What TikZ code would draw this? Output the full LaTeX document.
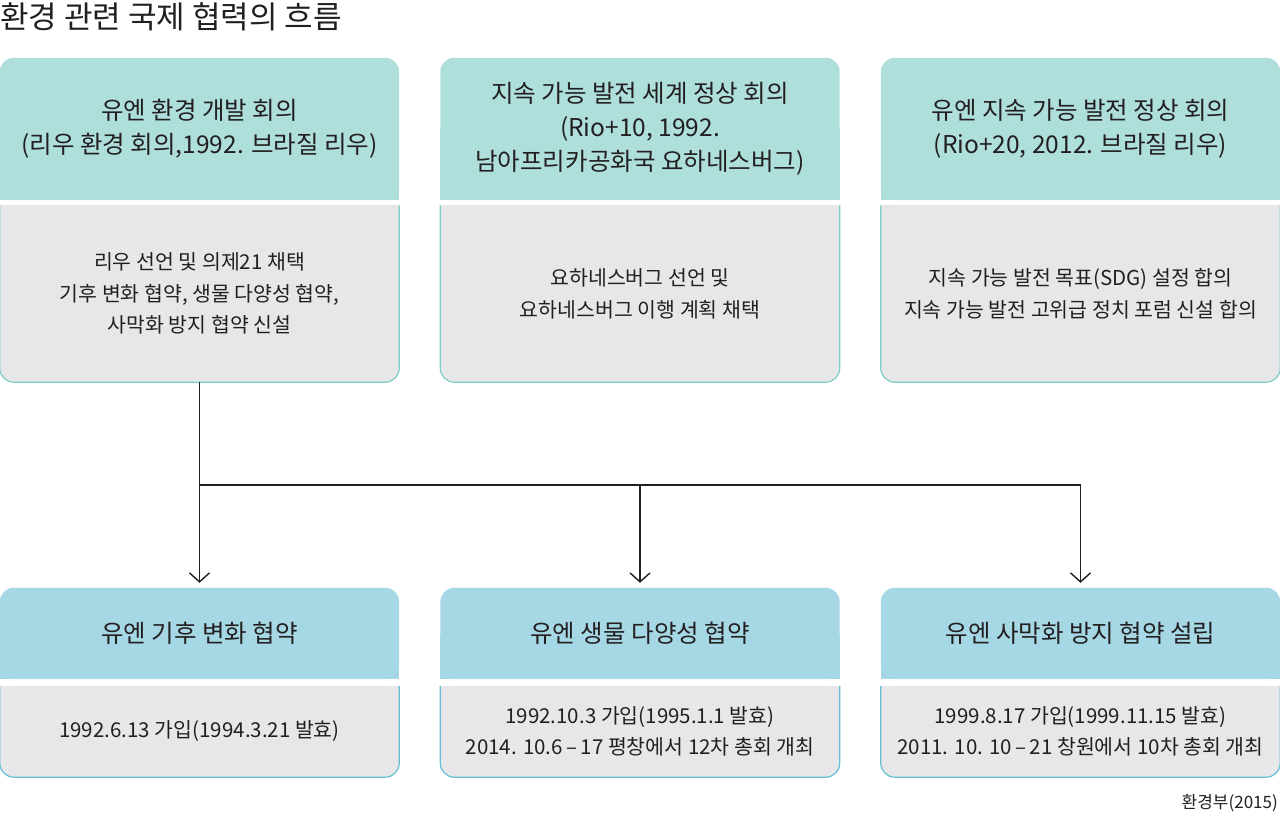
\documentclass[tikz,border=0pt]{standalone}
\usepackage{fontspec}
\setmainfont{Noto Sans CJK KR}
\usetikzlibrary{positioning, arrows.meta, calc, backgrounds}

\definecolor{summitfill}{RGB}{174,223,219}
\definecolor{summitline}{RGB}{125,205,198}
\definecolor{treatyfill}{RGB}{165,215,228}
\definecolor{treatyline}{RGB}{100,190,212}
\definecolor{bodyfill}{RGB}{231,231,233}
\definecolor{ink}{RGB}{35,31,32}

\begin{document}
\begin{tikzpicture}[
        x=1pt, y=-1pt,
        >={Straight Barb[length=9pt, width=20pt]},
        headbox/.style={minimum width=399pt, inner sep=0pt, align=center, text=ink, font=\fontsize{24.5}{34}\selectfont},
        summit/.style={headbox, minimum height=142pt},
        treaty/.style={headbox, minimum height=91pt},
        detail/.style={minimum width=399pt, inner sep=0pt, align=center, text=ink, font=\fontsize{20.5}{31.5}\selectfont},
        flow/.style={line width=1.4pt, draw=ink},
    ]

    \useasboundingbox (0,0) rectangle (1280,815);

    % Title and source
    \node[anchor=west, inner sep=0pt, text=ink, font=\fontsize{31}{31}\selectfont] (title) at (0,17) {환경 관련 국제 협력의 흐름};
    \node[anchor=east, inner sep=0pt, text=ink, font=\fontsize{17}{17}\selectfont] (source) at (1278,803) {환경부(2015)};

    % Draw the summit boxes (top row)
    \node[summit] (rio-head) at (199.5,129) {유엔 환경 개발 회의\\(리우 환경 회의,1992. 브라질 리우)};
    \node[summit] (joburg-head) at (640,129) {지속 가능 발전 세계 정상 회의\\(Rio+10, 1992.\\남아프리카공화국 요하네스버그)};
    \node[summit] (rioplus-head) at (1080.5,129) {유엔 지속 가능 발전 정상 회의\\(Rio+20, 2012. 브라질 리우)};

    \node[detail, minimum height=176.5pt] (rio-body) at (199.5,293.75) {리우 선언 및 의제21 채택\\기후 변화 협약, 생물 다양성 협약,\\사막화 방지 협약 신설};
    \node[detail, minimum height=176.5pt] (joburg-body) at (640,293.75) {요하네스버그 선언 및\\요하네스버그 이행 계획 채택};
    \node[detail, minimum height=176.5pt] (rioplus-body) at (1080.5,293.75) {지속 가능 발전 목표(SDG) 설정 합의\\지속 가능 발전 고위급 정치 포럼 신설 합의};

    % Draw the treaty boxes (bottom row)
    \node[treaty] (climate-head) at (199.5,633.5) {유엔 기후 변화 협약};
    \node[treaty] (bio-head) at (640,633.5) {유엔 생물 다양성 협약};
    \node[treaty] (desert-head) at (1080.5,633.5) {유엔 사막화 방지 협약 설립};

    \node[detail, minimum height=91pt] (climate-body) at (199.5,731.5) {1992.6.13 가입(1994.3.21 발효)};
    \node[detail, minimum height=91pt] (bio-body) at (640,731.5) {1992.10.3 가입(1995.1.1 발효)\\2014. 10.6\,–\,17 평창에서 12차 총회 개최};
    \node[detail, minimum height=91pt] (desert-body) at (1080.5,731.5) {1999.8.17 가입(1999.11.15 발효)\\2011. 10. 10\,–\,21 창원에서 10차 총회 개최};

    % Box shapes behind the texts
    \begin{scope}[on background layer]
        \foreach \name / \fillcol / \linecol in {rio/summitfill/summitline, joburg/summitfill/summitline, rioplus/summitfill/summitline,
                climate/treatyfill/treatyline, bio/treatyfill/treatyline, desert/treatyfill/treatyline} {
            \fill[\fillcol, rounded corners=14pt] (\name-head.north west) rectangle (\name-head.south east);
            \fill[\fillcol] (\name-head.west) rectangle (\name-head.south east);
            \fill[bodyfill, rounded corners=14pt] (\name-body.north west) rectangle (\name-body.south east);
            \fill[bodyfill] (\name-body.north west) rectangle (\name-body.east);
            \draw[\linecol, line width=1.2pt, rounded corners=14pt] (\name-body.north west) |- (\name-body.south) -| (\name-body.north east);
        }
    \end{scope}

    % Connect the Rio conference with the three treaties
    \coordinate (branch) at ($(rio-body.south)!0.5!(climate-head.north)$);
    \draw[flow, ->, shorten >=5pt] (rio-body.south) -- (climate-head.north);
    \draw[flow, ->, shorten >=5pt] (branch) -| (desert-head.north);
    \draw[flow, ->, shorten >=5pt] (branch -| bio-head.north) -- (bio-head.north);
\end{tikzpicture}
\end{document}
